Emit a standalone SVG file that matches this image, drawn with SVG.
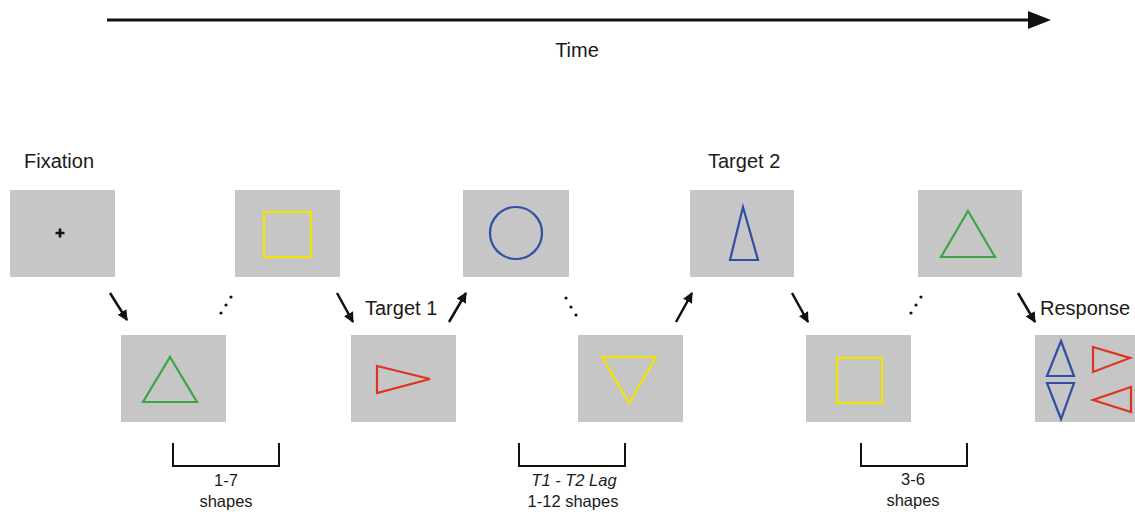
<svg xmlns="http://www.w3.org/2000/svg" width="1135" height="514" viewBox="0 0 1135 514">
<defs>
<marker id="ah" viewBox="0 0 10 10" refX="9" refY="5" markerWidth="4.2" markerHeight="4.2" orient="auto" markerUnits="strokeWidth">
<path d="M0,0 L10,5 L0,10 z" fill="#111"/>
</marker>
<style>
.panel{fill:#c6c6c6}
.lbl{font-family:"Liberation Sans",Arial,sans-serif;font-size:20px;fill:#1a1a1a}
.sm{font-family:"Liberation Sans",Arial,sans-serif;font-size:16.5px;fill:#1a1a1a;text-anchor:middle}
.arr{stroke:#111;stroke-width:2.5;fill:none;marker-end:url(#ah)}
.br{stroke:#111;stroke-width:2;fill:none}
.sh{fill:none;stroke-width:2.2;stroke-linejoin:miter}
.y{stroke:#f2e400}.g{stroke:#3aa645}.b{stroke:#2f4fa5}.r{stroke:#e0331f}
.dot{fill:#111}
</style>
</defs>
<rect width="1135" height="514" fill="#fff"/>

<g id="timeline">
<line x1="107" y1="20" x2="1032" y2="20" stroke="#111" stroke-width="3"/>
<path d="M1028,11 L1051,20 L1028,29 z" fill="#111"/>
<text class="lbl" x="577" y="57" text-anchor="middle">Time</text>
</g>

<g id="fixation">
<text class="lbl" x="24" y="168">Fixation</text>
<rect class="panel" x="10" y="190" width="105" height="87"/>
<path d="M55.5,233 H64.5 M60,228.5 V237.5" stroke="#111" stroke-width="2.6"/>
</g>

<g id="green-triangle-1">
<rect class="panel" x="121" y="335" width="105" height="87"/>
<path class="sh g" d="M170,357 L197,402 L143,402 z"/>
</g>

<g id="yellow-square-1">
<rect class="panel" x="235" y="190" width="105" height="87"/>
<rect class="sh y" x="264" y="212" width="47" height="45"/>
</g>

<g id="target1">
<rect class="panel" x="351" y="335" width="105" height="87"/>
<path class="sh r" d="M377,366 L430,379 L377,393 z"/>
<text class="lbl" x="365" y="315">Target 1</text>
</g>

<g id="blue-circle">
<rect class="panel" x="463" y="190" width="106" height="87"/>
<circle class="sh b" cx="516" cy="233" r="26"/>
</g>

<g id="yellow-down-triangle">
<rect class="panel" x="578" y="335" width="105" height="87"/>
<path class="sh y" d="M602,357 L656,357 L629,403 z"/>
</g>

<g id="target2">
<text class="lbl" x="708" y="168">Target 2</text>
<rect class="panel" x="690" y="190" width="104" height="87"/>
<path class="sh b" d="M743,207 L758,260 L730,260 z"/>
</g>

<g id="yellow-square-2">
<rect class="panel" x="806" y="335" width="105" height="87"/>
<rect class="sh y" x="837" y="358" width="45" height="45"/>
</g>

<g id="green-triangle-2">
<rect class="panel" x="918" y="190" width="104" height="87"/>
<path class="sh g" d="M968,211 L995,257 L941,257 z"/>
</g>

<g id="response">
<text class="lbl" x="1040" y="315">Response</text>
<rect class="panel" x="1035" y="335" width="100" height="87"/>
<path class="sh b" d="M1061,341 L1074,376 L1047,376 z"/>
<path class="sh b" d="M1047,383 L1074,383 L1061,419 z"/>
<path class="sh r" d="M1093,347 L1130,358 L1093,372 z"/>
<path class="sh r" d="M1131,387 L1093,400 L1131,412 z"/>
</g>

<g id="connectors">
<line class="arr" x1="110" y1="293" x2="127" y2="320"/>
<line class="arr" x1="337" y1="293" x2="353" y2="322"/>
<line class="arr" x1="449" y1="322" x2="466" y2="293"/>
<line class="arr" x1="676" y1="322" x2="692" y2="293"/>
<line class="arr" x1="792" y1="293" x2="808" y2="322"/>
<line class="arr" x1="1018" y1="293" x2="1035" y2="322"/>
<circle class="dot" cx="231" cy="297" r="1.6"/>
<circle class="dot" cx="226" cy="305" r="1.6"/>
<circle class="dot" cx="221" cy="313" r="1.6"/>
<circle class="dot" cx="566" cy="298" r="1.6"/>
<circle class="dot" cx="571" cy="307" r="1.6"/>
<circle class="dot" cx="576" cy="315" r="1.6"/>
<circle class="dot" cx="921" cy="297" r="1.6"/>
<circle class="dot" cx="916" cy="305" r="1.6"/>
<circle class="dot" cx="911" cy="313" r="1.6"/>
</g>

<g id="bracket-1">
<path class="br" d="M173,443 V466 H279 V443"/>
<text class="sm" x="226" y="486">1-7</text>
<text class="sm" x="226" y="507">shapes</text>
</g>

<g id="bracket-2">
<path class="br" d="M519,443 V466 H625 V443"/>
<text class="sm" x="574" y="486" font-style="italic">T1 - T2 Lag</text>
<text class="sm" x="573" y="507">1-12 shapes</text>
</g>

<g id="bracket-3">
<path class="br" d="M861,443 V466 H967 V443"/>
<text class="sm" x="913" y="485">3-6</text>
<text class="sm" x="913" y="506">shapes</text>
</g>
</svg>
